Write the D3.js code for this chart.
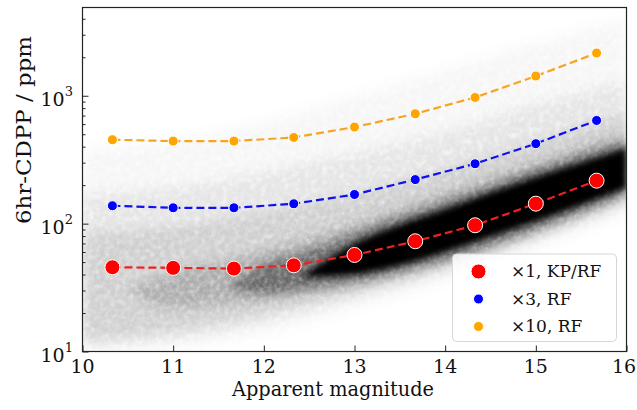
<!DOCTYPE html>
<html><head><meta charset="utf-8">
<script src="https://cdn.jsdelivr.net/npm/d3@7"></script>
<style>
body{margin:0;background:#fff;}
svg{display:block;font-family:"DejaVu Serif",serif;}
</style></head><body>
<svg id="chart" width="637" height="410"></svg>
<script>
// Binned 6-hour CDPP against apparent magnitude
const magBins = [10.33, 11.0, 11.67, 12.33, 13.0, 13.67, 14.33, 15.0, 15.67];
const cdppKP   = [45.6, 45.1, 44.5, 47.2, 56.9, 72.8, 97.1, 143.3, 216.8];
const cdppRF3  = [138, 133, 133, 143, 169, 221, 294, 422, 641];
const cdppRF10 = [453, 442, 442, 472, 569, 723, 970, 1426, 2158];

const seriesLabels = ["×1, KP/RF", "×3, RF", "×10, RF"];
const xTicks = [10, 11, 12, 13, 14, 15, 16];
const yMajor = [10, 100, 1000];
const yExponents = ["1", "2", "3"];

// Density envelopes of the full stellar sample (CDPP bounds in ppm per magnitude)
const hazeMag = [10, 11, 12, 13, 14, 15, 16];
const hazeLo  = [10.3, 11, 14, 22, 36, 65, 120];
const hazeHi  = [380, 450, 620, 1000, 1600, 2600, 4000];

const cloudMag = [10, 11, 12, 13, 14, 15, 16];
const cloudLo  = [10.8, 12.3, 17, 26, 42, 75, 140];
const cloudHi  = [170, 190, 250, 350, 520, 850, 1300];

const midMag = [10, 11, 12, 13, 14, 15, 16];
const midLo  = [12.5, 14.5, 19.5, 29, 46, 80, 150];
const midHi  = [85, 95, 125, 175, 270, 450, 750];

const haloMag = [10.5, 11, 11.5, 12, 12.5, 13, 14, 15, 16];
const haloLo  = [30, 22, 23, 25, 28, 32, 48, 85, 160];
const haloHi  = [30, 42, 50, 62, 78, 100, 175, 305, 520];

const darkMag = [11.6, 12, 12.5, 13, 14, 15, 16];
const darkLo  = [32, 28, 31, 35, 52, 90, 170];
const darkHi  = [32, 48, 62, 85, 150, 265, 450];

const coreMag = [12.4, 13, 13.5, 14, 14.5, 15, 15.5, 16];
const coreLo  = [38, 40, 47, 60, 79, 104, 140, 190];
const coreHi  = [38, 70, 98, 130, 175, 232, 300, 390];

const svg = d3.select("#chart");
const L = 82.5, R = 626.5, T = 7.5, B = 351.5;

const x = d3.scaleLinear().domain([10, 16]).range([L, R]);
const y = d3.scaleLog().domain([10, 4900]).range([B, T]);

const defs = svg.append("defs");
defs.append("clipPath").attr("id", "plotClip")
  .append("rect").attr("x", L).attr("y", T).attr("width", R - L).attr("height", B - T);

function grainFilter(id, blur, freq, seed) {
  const f = defs.append("filter").attr("id", id)
    .attr("x", "-20%").attr("y", "-20%").attr("width", "140%").attr("height", "140%");
  f.append("feGaussianBlur").attr("in", "SourceGraphic").attr("stdDeviation", blur).attr("result", "soft");
  f.append("feTurbulence").attr("type", "fractalNoise").attr("baseFrequency", freq)
    .attr("numOctaves", 2).attr("seed", seed).attr("result", "noise");
  f.append("feColorMatrix").attr("in", "noise").attr("type", "matrix")
    .attr("values", "0 0 0 0 0  0 0 0 0 0  0 0 0 0 0  1.3 0 0 0 0.2").attr("result", "mask");
  f.append("feComposite").attr("in", "soft").attr("in2", "mask").attr("operator", "in");
}
grainFilter("grainWide", 7, 0.18, 4);
grainFilter("grainMid", 6, 0.2, 9);
grainFilter("grainDark", 4, 0.22, 13);
defs.append("filter").attr("id", "coreBlur")
  .attr("x", "-20%").attr("y", "-20%").attr("width", "140%").attr("height", "140%")
  .append("feGaussianBlur").attr("stdDeviation", 3);

const band = d3.area()
  .x(d => x(d[0])).y0(d => y(d[1])).y1(d => y(d[2]))
  .curve(d3.curveMonotoneX);

const cloud = svg.append("g").attr("clip-path", "url(#plotClip)");
const layers = [
  {mag: hazeMag,  lo: hazeLo,  hi: hazeHi,  alpha: 0.035, filter: "grainWide"},
  {mag: cloudMag, lo: cloudLo, hi: cloudHi, alpha: 0.07,  filter: "grainWide"},
  {mag: midMag,   lo: midLo,   hi: midHi,   alpha: 0.1,   filter: "grainMid"},
  {mag: haloMag,  lo: haloLo,  hi: haloHi,  alpha: 0.17,  filter: "grainMid"},
  {mag: darkMag,  lo: darkLo,  hi: darkHi,  alpha: 0.4,   filter: "grainDark"},
  {mag: coreMag,  lo: coreLo,  hi: coreHi,  alpha: 1.0,   filter: "coreBlur"}
];
layers.forEach(l => {
  const rows = l.mag.map((m, i) => [m, l.lo[i], l.hi[i]]);
  cloud.append("g").attr("filter", `url(#${l.filter})`)
    .append("path").datum(rows)
    .attr("d", band).attr("fill", "#000").attr("fill-opacity", l.alpha);
});

// Binned series
const series = [
  {vals: cdppKP,   color: "#ff0000", line: "#ee2020", r: 7.5},
  {vals: cdppRF3,  color: "#0000ff", line: "#1010f0", r: 5},
  {vals: cdppRF10, color: "#ffa500", line: "#f7a520", r: 5}
];
const line = d3.line().x(d => x(d[0])).y(d => y(d[1]));
series.forEach(s => {
  const pts = magBins.map((m, i) => [m, s.vals[i]]);
  svg.append("path").datum(pts).attr("d", line)
    .attr("fill", "none").attr("stroke", s.line)
    .attr("stroke-width", 2.2).attr("stroke-dasharray", "8,4");
  svg.append("g").selectAll("circle").data(pts).join("circle")
    .attr("cx", d => x(d[0])).attr("cy", d => y(d[1])).attr("r", s.r)
    .attr("fill", s.color).attr("stroke", "#fff").attr("stroke-width", 1);
});

// Axes: inward ticks
const yAxisMajor = d3.axisLeft(y).tickValues(yMajor).tickSize(-6).tickFormat("");
const yMinor = [];
[10, 100, 1000].forEach(d => { for (let k = 2; k <= 9; k++) if (d * k < 4900) yMinor.push(d * k); });
const yAxisMinor = d3.axisLeft(y).tickValues(yMinor).tickSize(-3).tickFormat("");
const xAxis = d3.axisBottom(x).tickValues(xTicks).tickSize(-6).tickFormat("");

function styleAxis(g) {
  g.select(".domain").remove();
  g.selectAll(".tick line").attr("stroke", "#222").attr("stroke-width", 1);
}
svg.append("g").attr("transform", `translate(${L},0)`).call(yAxisMajor).call(styleAxis);
svg.append("g").attr("transform", `translate(${L},0)`).call(yAxisMinor).call(styleAxis);
svg.append("g").attr("transform", `translate(0,${B})`).call(xAxis).call(styleAxis);

svg.append("rect").attr("x", L).attr("y", T).attr("width", R - L).attr("height", B - T)
  .attr("fill", "none").attr("stroke", "#222").attr("stroke-width", 1.2);

// Tick labels (the last one is kept inside the page edge)
svg.append("g").selectAll("text").data(xTicks).join("text")
  .attr("x", d => Math.min(x(d), 624)).attr("y", 373).attr("text-anchor", "middle")
  .attr("font-size", 19).attr("fill", "#111").text(d => d);

const yl = svg.append("g").selectAll("text").data(yMajor).join("text")
  .attr("x", 73).attr("y", d => y(d) + 10).attr("text-anchor", "end")
  .attr("font-size", 19).attr("fill", "#111");
yl.append("tspan").text("10");
yl.append("tspan").attr("dy", -10).attr("font-size", 13).text((d, i) => yExponents[i]);

// Axis titles
svg.append("text").attr("x", 333).attr("y", 396).attr("text-anchor", "middle")
  .attr("font-size", 20).attr("fill", "#111")
  .attr("textLength", 202).attr("lengthAdjust", "spacingAndGlyphs")
  .text("Apparent magnitude");
svg.append("text").attr("transform", "translate(31,130) rotate(-90)")
  .attr("text-anchor", "middle").attr("font-size", 21).attr("fill", "#111")
  .attr("textLength", 188).attr("lengthAdjust", "spacingAndGlyphs")
  .text("6hr-CDPP / ppm");

// Legend
const lg = svg.append("g");
lg.append("rect").attr("x", 452.5).attr("y", 254).attr("width", 164).attr("height", 87.5)
  .attr("rx", 4).attr("fill", "#fff").attr("fill-opacity", 0.85)
  .attr("stroke", "#d6d6d6").attr("stroke-width", 1);
series.forEach((s, i) => {
  const cy = 271.5 + i * 27.5;
  lg.append("circle").attr("cx", 478.5).attr("cy", cy).attr("r", s.r)
    .attr("fill", s.color).attr("stroke", "#fff").attr("stroke-width", 1);
  lg.append("text").attr("x", 511).attr("y", cy + 5.5).attr("font-size", 17)
    .attr("fill", "#111").text(seriesLabels[i]);
});
</script>
</body></html>
